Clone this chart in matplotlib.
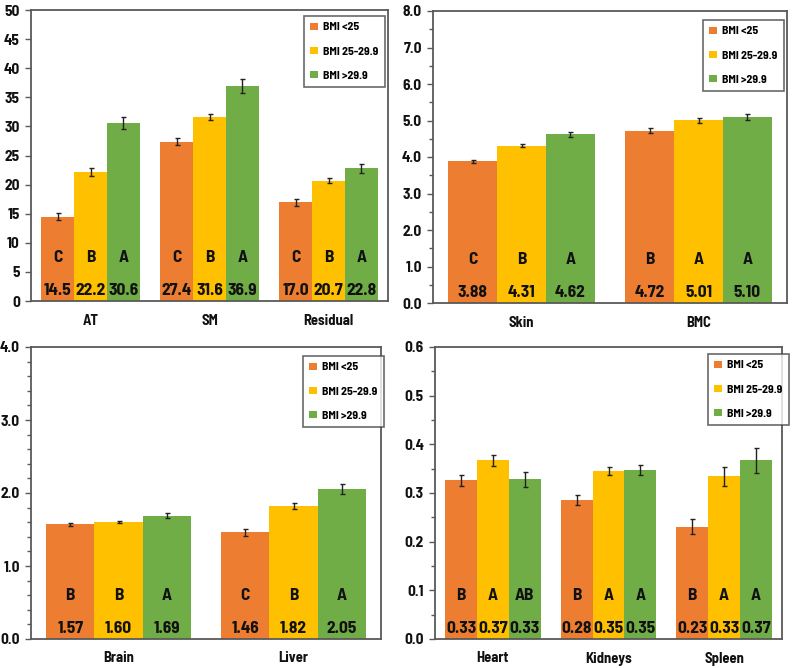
import matplotlib
matplotlib.use("Agg")
import matplotlib.pyplot as plt
import matplotlib.transforms as mtransforms
from matplotlib.ticker import MultipleLocator, FormatStrFormatter
from matplotlib.font_manager import fontManager
import numpy as np

names = {f.name for f in fontManager.ttflist}
if 'Barlow Semi Condensed' in names:
    fam = ['Barlow Semi Condensed', 'DejaVu Sans']
else:
    fam = ['DejaVu Sans']
plt.rcParams['font.family'] = fam
plt.rcParams['font.weight'] = 'bold'

series = ['BMI <25', 'BMI 25-29.9', 'BMI >29.9']
colors = ['#ED7D31', '#FFC000', '#70AD47']

# Panel 1
cats1 = ['AT', 'SM', 'Residual']
vals1 = [[14.5, 27.4, 17.0], [22.2, 31.6, 20.7], [30.6, 36.9, 22.8]]
err1 = [[0.6, 0.6, 0.6], [0.7, 0.5, 0.5], [1.0, 1.2, 0.8]]
lab1 = [['C', 'C', 'C'], ['B', 'B', 'B'], ['A', 'A', 'A']]
txt1 = [['14.5', '27.4', '17.0'], ['22.2', '31.6', '20.7'], ['30.6', '36.9', '22.8']]

# Panel 2
cats2 = ['Skin', 'BMC']
vals2 = [[3.88, 4.72], [4.31, 5.01], [4.62, 5.10]]
err2 = [[0.04, 0.07], [0.04, 0.07], [0.06, 0.09]]
lab2 = [['C', 'B'], ['B', 'A'], ['A', 'A']]
txt2 = [['3.88', '4.72'], ['4.31', '5.01'], ['4.62', '5.10']]

# Panel 3
cats3 = ['Brain', 'Liver']
vals3 = [[1.57, 1.46], [1.60, 1.82], [1.69, 2.05]]
err3 = [[0.02, 0.05], [0.015, 0.04], [0.03, 0.07]]
lab3 = [['B', 'C'], ['B', 'B'], ['A', 'A']]
txt3 = [['1.57', '1.46'], ['1.60', '1.82'], ['1.69', '2.05']]

# Panel 4
cats4 = ['Heart', 'Kidneys', 'Spleen']
vals4 = [[0.326, 0.285, 0.231], [0.367, 0.345, 0.334], [0.328, 0.347, 0.367]]
err4 = [[0.011, 0.010, 0.015], [0.011, 0.008, 0.019], [0.016, 0.011, 0.025]]
lab4 = [['B', 'B', 'B'], ['A', 'A', 'A'], ['AB', 'A', 'A']]
txt4 = [['0.33', '0.28', '0.23'], ['0.37', '0.35', '0.33'], ['0.33', '0.35', '0.37']]

fig = plt.figure(figsize=(8, 6.68), dpi=100)
W, H = 800, 668

def make_axes(x0, x1, ytop, ybot):
    return fig.add_axes([x0 / W, 1 - ybot / H, (x1 - x0) / W, (ybot - ytop) / H])

panels = [
    (make_axes(31, 388, 10, 301), cats1, vals1, err1, lab1, txt1, 50, 5, None, '%d', (304, 16)),
    (make_axes(433, 787, 11, 303), cats2, vals2, err2, lab2, txt2, 8.0, 1.0, 0.5, '%.1f', (703, 20)),
    (make_axes(31, 381, 347, 639), cats3, vals3, err3, lab3, txt3, 4.0, 1.0, 0.2, '%.1f', (303, 356)),
    (make_axes(435, 782, 347, 639), cats4, vals4, err4, lab4, txt4, 0.6, 0.1, 0.05, '%.1f', (708, 354)),
]

bw = 0.275
for ax, cats, vals, errs, labs, txts, ymax, major, minor, fmt, lg in panels:
    x = np.arange(len(cats))
    handles = []
    trans = mtransforms.blended_transform_factory(ax.transData, ax.transAxes)
    for i in range(3):
        pos = x + (i - 1) * bw
        b = ax.bar(pos, vals[i], width=bw, color=colors[i], yerr=errs[i],
                   error_kw=dict(ecolor='#222222', elinewidth=1.0, capsize=1.8, capthick=1.0),
                   label=series[i], zorder=2)
        handles.append(b)
        for j, p in enumerate(pos):
            ax.text(p, 0.15, labs[i][j], transform=trans, ha='center', va='center',
                    fontsize=12.5, fontweight='bold', color='#111111', zorder=3)
            ax.text(p, 0.035, txts[i][j], transform=trans, ha='center', va='center',
                    fontsize=12.5, fontweight='bold', color='#111111', zorder=3)
    ax.set_xlim(-0.5, len(cats) - 0.5)
    ax.set_ylim(0, ymax)
    ax.yaxis.set_major_locator(MultipleLocator(major))
    if minor:
        ax.yaxis.set_minor_locator(MultipleLocator(minor))
    ax.yaxis.set_major_formatter(FormatStrFormatter(fmt))
    ax.set_xticks(x)
    ax.set_xticklabels(cats, fontsize=10.5, fontweight='bold', color='#111111')
    ax.tick_params(axis='x', length=0, pad=9)
    ax.tick_params(axis='y', which='major', length=4, width=1, color='#595959',
                   labelsize=11, labelcolor='#111111', pad=4)
    ax.tick_params(axis='y', which='minor', length=3, width=1, color='#595959')
    for s in ax.spines.values():
        s.set_color('#595959')
        s.set_linewidth(1.3)
    lx0, ly0 = lg
    leg = fig.legend(handles=[h.patches[0] for h in handles], labels=series,
                     loc='upper left', bbox_to_anchor=(lx0 / W, 1 - ly0 / H),
                     frameon=True, fancybox=False, handlelength=0.6,
                     handleheight=0.6, handletextpad=0.45, labelspacing=1.2,
                     borderpad=0.55, borderaxespad=0, prop={'weight': 'bold', 'size': 8.5})
    leg.get_frame().set_edgecolor('#444444')
    leg.get_frame().set_linewidth(1.2)

fig.savefig('out.png', dpi=100)
